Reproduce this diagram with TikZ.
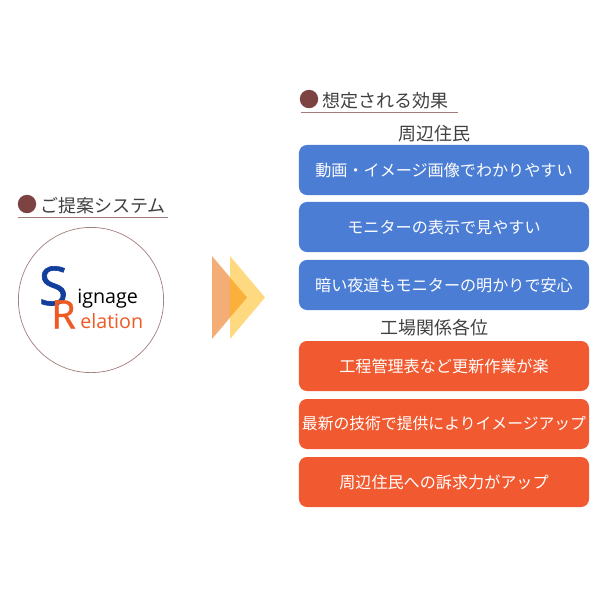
\documentclass[tikz,border=0pt]{standalone}
\usepackage{fontspec}
\setmainfont{Open Sans}
\newfontfamily\cjk{Noto Sans CJK JP}
\newfontfamily\logofont[FakeBold=1.2]{Open Sans}
\usetikzlibrary{calc,positioning}
\definecolor{barblue}{HTML}{4A7DD3}
\definecolor{barred}{HTML}{F15A30}
\definecolor{dotbrown}{HTML}{7D4343}
\definecolor{logoblue}{HTML}{123F9C}
\definecolor{logored}{HTML}{EE5A24}
\definecolor{arrowa}{HTML}{F4AE75}
\definecolor{arrowb}{HTML}{FFD97F}
\definecolor{arrowc}{HTML}{FBB03B}
\begin{document}
\begin{tikzpicture}[
    x=.025cm,y=-.025cm,
    bar/.style={rounded corners=2mm,minimum width=7.25cm,minimum height=1.25cm,inner sep=0pt,text=white,font=\cjk\fontsize{11.45pt}{13pt}\selectfont},
    ttl/.style={anchor=west,inner sep=0pt,text=black!75,font=\cjk\fontsize{12.8pt}{15pt}\selectfont},
    dot/.style={circle,fill=dotbrown,minimum size=4.6mm,inner sep=0pt},
    rul/.style={line width=.5pt,draw=dotbrown!70}
  ]
    \useasboundingbox (0,0) rectangle (600,600);
    % left side
    \node[dot] (d1) at (27,204) {};
    \node[ttl] (t1) at (40,205.5) {ご提案システム};
    \coordinate (l1a) at (18,217.5); \coordinate (l1b) at (168,217.5);
    \draw[rul] (l1a)--(l1b);
    \node[circle,draw=dotbrown!70,line width=.5pt,minimum size=3.63cm,inner sep=0pt] (logo) at (91,300) {};
    \node[inner sep=0pt,anchor=base,text=logoblue,font=\logofont\fontsize{38pt}{38pt}\selectfont] (s) at (53.5,305) {S};
    \node[inner sep=0pt,anchor=base,text=logored,font=\logofont\fontsize{28pt}{28pt}\selectfont] (r) at (63.5,328.5) {R};
    \node[inner sep=0pt,anchor=base west,font=\fontsize{14pt}{15pt}\selectfont] (ign) at (77,303) {ignage};
    \node[inner sep=0pt,anchor=base west,text=logored,font=\fontsize{14pt}{15pt}\selectfont] (ela) at (80,328) {elation};
    % arrows
    \fill[arrowa] (212,256)--(247,297.5)--(212,339)--cycle;
    \fill[arrowb] (230,256)--(265,297.5)--(230,339)--cycle;
    \fill[arrowc] (230,277.5)--(247,297.5)--(230,317.5)--cycle;
    % right side
    \node[dot] (d2) at (309,99) {};
    \node[ttl] (t2) at (322,100.5) {想定される効果};
    \coordinate (l2a) at (301,112.5); \coordinate (l2b) at (458,112.5);
    \draw[rul] (l2a)--(l2b);
    \node[ttl,anchor=center] (h1) at (434,134) {周辺住民};
    \node[ttl,anchor=center] (h2) at (434,328) {工場関係各位};
    \node[bar,fill=barblue] (b1) at (444,170) {\raisebox{-.5pt}{動画・イメージ画像でわかりやすい}};
    \node[bar,fill=barblue] (b2) at (444,227) {\raisebox{-.5pt}{モニターの表示で見やすい}};
    \node[bar,fill=barblue] (b3) at (444,285) {暗い夜道もモニターの明かりで安心};
    \node[bar,fill=barred] (b4) at (444,366) {工程管理表など更新作業が楽};
    \node[bar,fill=barred,font=\cjk\fontsize{11.25pt}{13pt}\selectfont] (b5) at (444,424) {最新の技術で提供によりイメージアップ};
    \node[bar,fill=barred] (b6) at (444,482) {\raisebox{.5pt}{周辺住民への訴求力がアップ}};
  \end{tikzpicture}
\end{document}
